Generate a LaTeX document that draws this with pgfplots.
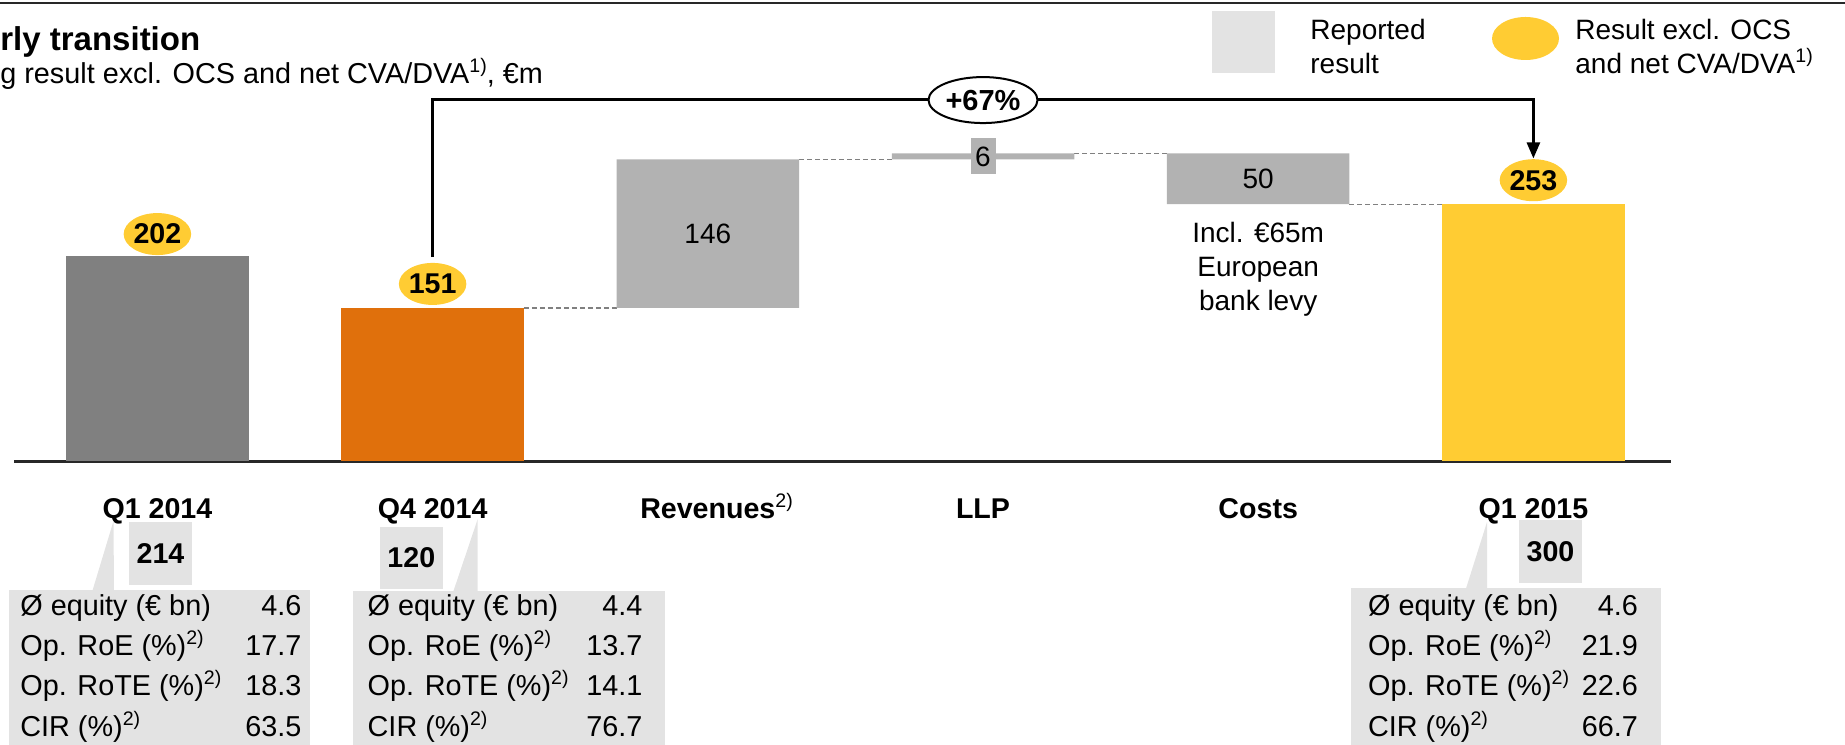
\documentclass[border=0pt]{standalone}
\usepackage{pgfplots}
\pgfplotsset{compat=1.18}
\usepackage{fontspec}
\setmainfont{Liberation Sans}
\usetikzlibrary{shapes.geometric, arrows.meta}

\definecolor{dkgrey}{RGB}{128,128,128}
\definecolor{orng}{RGB}{224,112,12}
\definecolor{midgrey}{RGB}{178,178,178}
\definecolor{yel}{RGB}{255,204,51}
\definecolor{ltgrey}{RGB}{227,227,227}
\definecolor{rulec}{RGB}{40,40,40}

\newcommand{\fs}{\fontsize{14}{16.8}\selectfont}
\newcommand{\fst}{\fontsize{14.4}{17}\selectfont}
\newcommand{\fsb}{\fontsize{14.3}{17}\selectfont\bfseries}
\newcommand{\sups}[1]{\raisebox{5.5pt}{\fontsize{9.8}{9.8}\selectfont #1}}

\begin{document}
\begin{tikzpicture}
\clip (0,0) rectangle (922.5pt,372pt);
\begin{axis}[name=ax, at={(0,0)}, anchor=south west, scale only axis,
  width=922.5pt, height=372pt,
  xmin=-0.5720, xmax=6.1323, ymin=-277.8, ymax=453.8,
  hide axis, clip=false,
  ybar stacked, bar width=91.25pt]
% invisible base of the floating bars
\addplot[draw=none, fill=none] coordinates {(0,0) (1,0) (2,151) (3,297) (4,253) (5,0)};
\addplot[draw=none, fill=dkgrey] coordinates {(0,202) (1,0) (2,0) (3,0) (4,0) (5,0)};
\addplot[draw=none, fill=orng] coordinates {(0,0) (1,151) (2,0) (3,0) (4,0) (5,0)};
\addplot[draw=none, fill=midgrey] coordinates {(0,0) (1,0) (2,146) (3,6) (4,50) (5,0)};
\addplot[draw=none, fill=yel] coordinates {(0,0) (1,0) (2,0) (3,0) (4,0) (5,253)};

% connectors
\draw[dkgrey, line width=0.6pt, dash pattern=on 2.5pt off 1.5pt] (axis cs:1.3316,151) -- (axis cs:1.6684,151);
\draw[dkgrey, line width=0.6pt, dash pattern=on 2.5pt off 1.5pt] (axis cs:2.3316,297) -- (axis cs:2.6684,297);
\draw[dkgrey, line width=0.6pt, dash pattern=on 2.5pt off 1.5pt] (axis cs:3.3316,303) -- (axis cs:3.6684,303);
\draw[dkgrey, line width=0.6pt, dash pattern=on 2.5pt off 1.5pt] (axis cs:4.3316,253) -- (axis cs:4.6684,253);

% baseline
\draw[rulec, line width=1.3pt] (axis cs:-0.521,0) -- (axis cs:5.5,0);

% anchor points for annotations (drawn after the axis)
\coordinate (b0) at (axis cs:0,202);
\coordinate (b1) at (axis cs:1,151);
\coordinate (b5) at (axis cs:5,253);
\coordinate (v2) at (axis cs:2,224);
\coordinate (v3) at (axis cs:3,300);
\coordinate (v4) at (axis cs:4,278);
\coordinate (n4) at (axis cs:4,189);
\coordinate (a1) at (axis cs:1,201);
\coordinate (a2) at (axis cs:1,356);
\coordinate (a3) at (axis cs:5,356);
\coordinate (a4) at (axis cs:5,298);
\coordinate (pct) at (axis cs:3,355.4);
\coordinate (c0) at (axis cs:0,-55.6);
\coordinate (c1) at (axis cs:1,-55.6);
\coordinate (c2) at (axis cs:2,-55.6);
\coordinate (c3) at (axis cs:3,-55.6);
\coordinate (c4) at (axis cs:4,-55.6);
\coordinate (c5) at (axis cs:5,-55.6);
\end{axis}

% bar labels
\node[font=\fs] at (v2) {146};
\node[fill=midgrey, minimum width=12.5pt, minimum height=18pt, inner sep=0pt, font=\fs] at (v3) {6};
\node[font=\fs] at (v4) {50};
\node[align=center, font=\fontsize{14}{17}\selectfont] at (n4) {Incl. €65m\\European\\bank levy};

% bubbles
\node[ellipse, fill=yel, minimum width=33pt, minimum height=21pt, inner sep=0pt, font=\fsb] at ([yshift=11pt]b0) {202};
\node[ellipse, fill=yel, minimum width=33pt, minimum height=21pt, inner sep=0pt, font=\fsb] at ([yshift=12pt]b1) {151};
\node[ellipse, fill=yel, minimum width=33pt, minimum height=21pt, inner sep=0pt, font=\fsb] at ([yshift=12pt]b5) {253};

% growth arrow
\draw[line width=1.3pt, -{Triangle[length=8pt,width=6.5pt]}] (a1) -- (a2) -- (a3) -- (a4);
\node[ellipse, draw, line width=1pt, fill=white, minimum width=54.5pt, minimum height=23pt, inner sep=0pt, font=\fontsize{14.5}{17}\selectfont\bfseries] at (pct) {+67\%};

% category labels
\node[anchor=base, font=\fsb] at (c0) {Q1 2014};
\node[anchor=base, font=\fsb] at (c1) {Q4 2014};
\node[anchor=base, font=\fsb] at (c2) {Revenues\rlap{\mdseries\sups{2)}}};
\node[anchor=base, font=\fsb] at (c3) {LLP};
\node[anchor=base, font=\fsb] at (c4) {Costs};
\node[anchor=base, font=\fsb] at (c5) {Q1 2015};

\begin{scope}[shift={(0,372pt)}, x=0.5pt, y=-0.5pt]
% top rule
\fill[rulec] (0,1.7) rectangle (1845,4.5);
% title
\node[anchor=base west, inner sep=0pt, font=\fontsize{16.5}{19}\selectfont\bfseries] at (0,51) {rly transition};
\node[anchor=base west, inner sep=0pt, font=\fontsize{14.4}{17}\selectfont] at (0,84) {g result excl. OCS and net CVA/DVA\sups{1)}, €m};
% legend
\fill[ltgrey] (1212,11) rectangle (1275,73);
\node[anchor=base west, inner sep=0pt, font=\fs] at (1310,40) {Reported};
\node[anchor=base west, inner sep=0pt, font=\fs] at (1310,74) {result};
\fill[yel] (1525.5,38.5) ellipse [x radius=16.75pt, y radius=10.75pt];
\node[anchor=base west, inner sep=0pt, font=\fs] at (1575,40) {Result excl. OCS};
\node[anchor=base west, inner sep=0pt, font=\fs] at (1575,74) {and net CVA/DVA\sups{1)}};

% Q1 2014 box
\fill[ltgrey] (9.4,590) rectangle (310,745);
\fill[ltgrey] (113.5,521) -- (114,590.5) -- (92.5,590.5) -- cycle;
\fill[ltgrey] (129.3,522.3) rectangle (191.7,585);
\node[font=\fsb] at (160.5,553.7) {214};
% Q4 2014 box
\fill[ltgrey] (353.3,591) rectangle (665,745);
\fill[ltgrey] (477.7,519) -- (477.7,591.5) -- (453.3,591.5) -- cycle;
\fill[ltgrey] (380,527.3) rectangle (442.7,589);
\node[font=\fsb] at (411.3,558) {120};
% Q1 2015 box
\fill[ltgrey] (1351,588) rectangle (1661,745);
\fill[ltgrey] (1487,522) -- (1487,588.5) -- (1466,588.5) -- cycle;
\fill[ltgrey] (1519,520) rectangle (1582,583);
\node[font=\fsb] at (1550.5,551.5) {300};

% table rows
\foreach \xl/\xr/\a/\b/\c/\d in {20/301.7/4.6/17.7/18.3/63.5, 367.3/642.7/4.4/13.7/14.1/76.7, 1367.7/1638.3/4.6/21.9/22.6/66.7}{
  \node[anchor=base west, inner sep=0pt, font=\fst] at (\xl,615) {Ø equity (€ bn)};
  \node[anchor=base west, inner sep=0pt, font=\fst] at (\xl,655) {Op. RoE (\%)\sups{2)}};
  \node[anchor=base west, inner sep=0pt, font=\fst] at (\xl,695) {Op. RoTE (\%)\sups{2)}};
  \node[anchor=base west, inner sep=0pt, font=\fst] at (\xl,736) {CIR (\%)\sups{2)}};
  \node[anchor=base east, inner sep=0pt, font=\fst] at (\xr,615) {\a};
  \node[anchor=base east, inner sep=0pt, font=\fst] at (\xr,655) {\b};
  \node[anchor=base east, inner sep=0pt, font=\fst] at (\xr,695) {\c};
  \node[anchor=base east, inner sep=0pt, font=\fst] at (\xr,736) {\d};
}
\end{scope}
\end{tikzpicture}
\end{document}
